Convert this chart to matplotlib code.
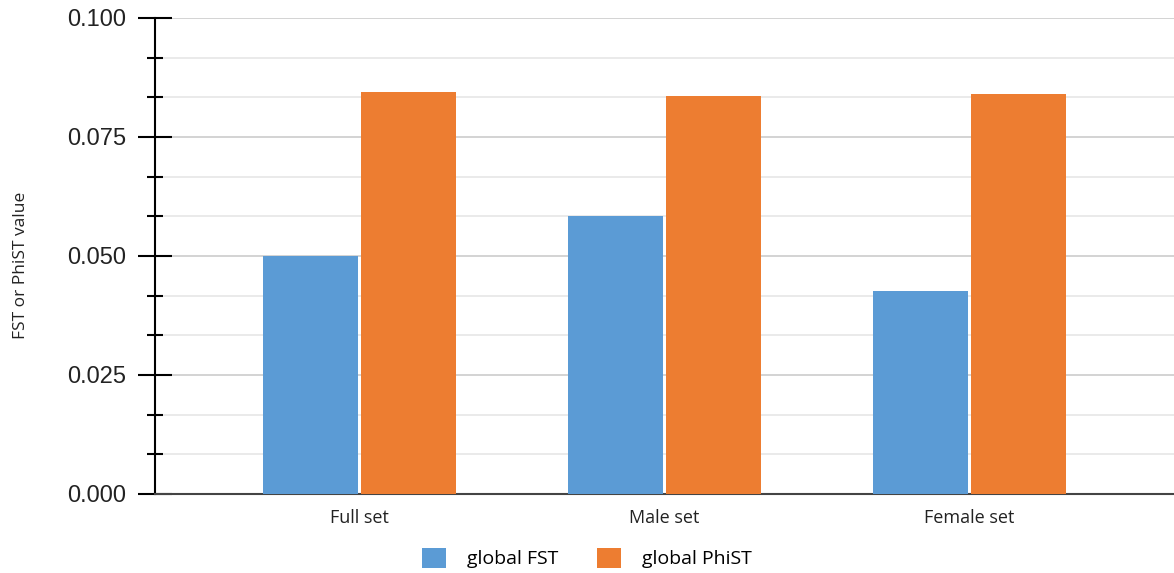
import matplotlib.pyplot as plt
import numpy as np
from matplotlib.ticker import MultipleLocator

categories = ['Full set', 'Male set', 'Female set']
global_fst = [0.0500, 0.0584, 0.0426]
global_phist = [0.0845, 0.0836, 0.0841]

blue = '#5b9bd5'
orange = '#ed7d31'

fig = plt.figure(figsize=(11.74, 5.73), dpi=100)
ax = fig.add_axes([0.132, 0.138, 0.868, 0.8306])

x = np.arange(len(categories))
w = 0.31
ax.bar(x - w / 2 - 0.006, global_fst, w, color=blue, label='global FST', zorder=3)
ax.bar(x + w / 2 + 0.006, global_phist, w, color=orange, label='global PhiST', zorder=3)

ax.set_xlim(-0.67, 2.67)
ax.set_ylim(0, 0.1)
ax.yaxis.set_major_locator(MultipleLocator(0.025))
ax.yaxis.set_minor_locator(MultipleLocator(0.025 / 3))
ax.set_yticklabels([f'{v:.3f}' for v in ax.get_yticks()],
                   fontsize=17, family='Liberation Sans', color='#222222')
ax.grid(axis='y', which='major', color='#cccccc', lw=1.2, zorder=0)
ax.grid(axis='y', which='minor', color='#e6e6e6', lw=1.2, zorder=0)
ax.tick_params(axis='y', which='major', direction='inout', length=24, width=1.5, pad=9)
ax.tick_params(axis='y', which='minor', direction='inout', length=12, width=1.5)

ax.set_xticks(x)
ax.set_xticklabels(categories, fontsize=13, family='Open Sans', color='#222222')
ax.tick_params(axis='x', length=0, pad=11)

for s in ['top', 'right']:
    ax.spines[s].set_visible(False)
ax.spines['left'].set_linewidth(1.5)
ax.spines['left'].set_color('black')
ax.spines['bottom'].set_color('#444444')
ax.spines['bottom'].set_linewidth(1.5)

fig.text(0.018, 0.536, 'FST or PhiST value', rotation=90, va='center', ha='center',
         fontsize=12.5, family='Open Sans', color='#222222')

fig.legend(loc='center', bbox_to_anchor=(0.5, 0.026), ncol=2, frameon=False,
           prop={'family': 'Open Sans', 'size': 14}, handlelength=1.2, handleheight=1.2,
           columnspacing=2.0, handletextpad=1.1)

plt.savefig('out.png', dpi=100)
